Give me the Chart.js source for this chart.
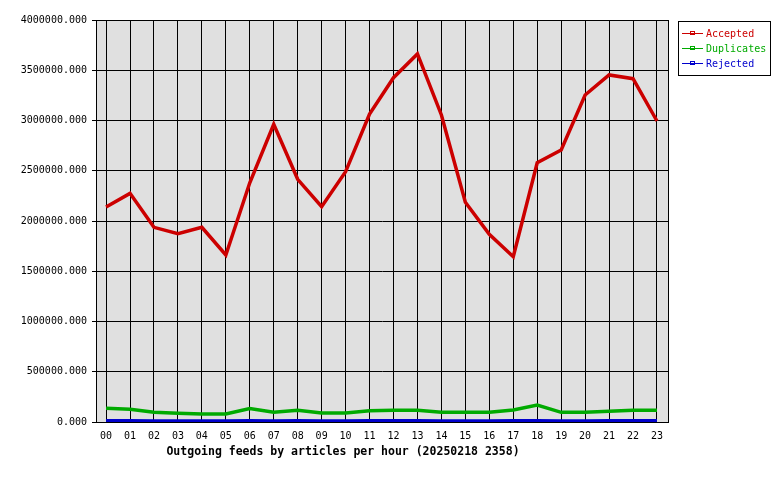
<!DOCTYPE html>
<html>
<head>
<meta charset="utf-8">
<script src="https://cdn.jsdelivr.net/npm/chart.js@4"></script>
<style>
html,body{margin:0;padding:0;background:#fff;}
#wrap{width:780px;height:480px;}
</style>
</head>
<body>
<div id="wrap"><canvas id="c" width="780" height="480"></canvas></div>
<script>
const hours = ["00","01","02","03","04","05","06","07","08","09","10","11","12","13","14","15","16","17","18","19","20","21","22","23"];
const accepted = [2140000,2275000,1937000,1874000,1937000,1662000,2380000,2962000,2415000,2142000,2491000,3065000,3426000,3662000,3055000,2186000,1868000,1645000,2580000,2706000,3254000,3453000,3416000,2995000];
const duplicates = [136000,126000,96000,86000,80000,80000,133000,96000,116000,90000,90000,113000,116000,116000,96000,96000,96000,120000,169000,96000,96000,106000,116000,116000];
const rejected = [12000,12000,11000,11000,10000,10000,12000,11000,12000,11000,11000,12000,12000,12000,11000,11000,11000,12000,13000,11000,11000,12000,12000,12000];
const seriesNames = ["Accepted","Duplicates","Rejected"];
const seriesColors = ["#cc0000","#00aa00","#0000cc"];
const yTicks = [0,500000,1000000,1500000,2000000,2500000,3000000,3500000,4000000];
const chartTitle = "Outgoing feeds by articles per hour (20250218 2358)";

const FONT = "DejaVu Sans Mono";
const toPts = arr => arr.map((v,i)=>({x:i,y:v}));

const bgPlugin = {
  id:'bg',
  beforeDraw(chart){
    const {ctx, chartArea:a} = chart;
    ctx.save();
    ctx.fillStyle = '#e0e0e0';
    ctx.fillRect(a.left, a.top, a.right-a.left, a.bottom-a.top);
    ctx.restore();
  },
  afterDraw(chart){
    const {ctx, chartArea:a} = chart;
    ctx.save();
    ctx.strokeStyle = '#000';
    ctx.lineWidth = 1;
    ctx.strokeRect(Math.round(a.left)+0.5, Math.round(a.top)+0.5, Math.round(a.right-a.left), Math.round(a.bottom-a.top));
    // legend box
    const lx = 678, ly = 21, lw = 92, lh = 54;
    ctx.fillStyle = '#fff';
    ctx.fillRect(lx, ly, lw, lh);
    ctx.strokeRect(lx+0.5, ly+0.5, lw, lh);
    ctx.font = "10px '" + FONT + "'";
    ctx.textBaseline = 'middle';
    ctx.textAlign = 'left';
    chart.data.datasets.forEach((ds, i) => {
      const y = 33 + i*15;
      ctx.strokeStyle = ds.borderColor;
      ctx.lineWidth = 1;
      ctx.beginPath();
      ctx.moveTo(682, y+0.5);
      ctx.lineTo(703, y+0.5);
      ctx.stroke();
      ctx.strokeRect(690.5, y-1.5, 4, 3);
      ctx.fillStyle = ds.borderColor;
      ctx.fillText(ds.label, 706, y+1);
    });
    // bottom title
    ctx.fillStyle = '#000';
    ctx.font = "bold 11.5px '" + FONT + "'";
    ctx.textAlign = 'center';
    ctx.fillText(chartTitle, 343, 452);
    ctx.restore();
  }
};

new Chart(document.getElementById('c'), {
  type: 'line',
  data: {
    datasets: [
      {label: seriesNames[0], data: toPts(accepted), borderColor: seriesColors[0], borderWidth: 3.5},
      {label: seriesNames[1], data: toPts(duplicates), borderColor: seriesColors[1], borderWidth: 3.5},
      {label: seriesNames[2], data: toPts(rejected), borderColor: seriesColors[2], borderWidth: 3.5}
    ]
  },
  options: {
    responsive: false,
    animation: false,
    devicePixelRatio: 1,
    layout: {padding: {top: 20, right: 112, bottom: 0, left: 0}},
    elements: {point: {radius: 0}, line: {tension: 0, borderJoinStyle: 'miter'}},
    plugins: {legend: {display: false}, tooltip: {enabled: false}},
    scales: {
      x: {
        type: 'linear',
        min: -0.42,
        max: 23.46,
        afterFit(s){ s.height = 58; },
        afterBuildTicks(s){ s.ticks = hours.map((h,i)=>({value:i})); },
        grid: {color: '#000', lineWidth: 1, drawTicks: false},
        border: {display: true, color: '#000'},
        ticks: {
          padding: 8,
          color: '#000',
          maxRotation: 0,
          autoSkip: false,
          font: {family: FONT, size: 10},
          callback: (v) => hours[v]
        }
      },
      y: {
        min: 0,
        max: 4000000,
        afterFit(s){ s.width = 96; },
        afterBuildTicks(s){ s.ticks = yTicks.map(v=>({value:v})); },
        grid: {color: '#000', lineWidth: 1, drawTicks: true, tickLength: 4},
        border: {display: true, color: '#000'},
        ticks: {
          padding: 5,
          color: '#000',
          font: {family: FONT, size: 10},
          callback: (v) => Number(v).toFixed(3)
        }
      }
    }
  },
  plugins: [bgPlugin]
});
</script>
</body>
</html>
